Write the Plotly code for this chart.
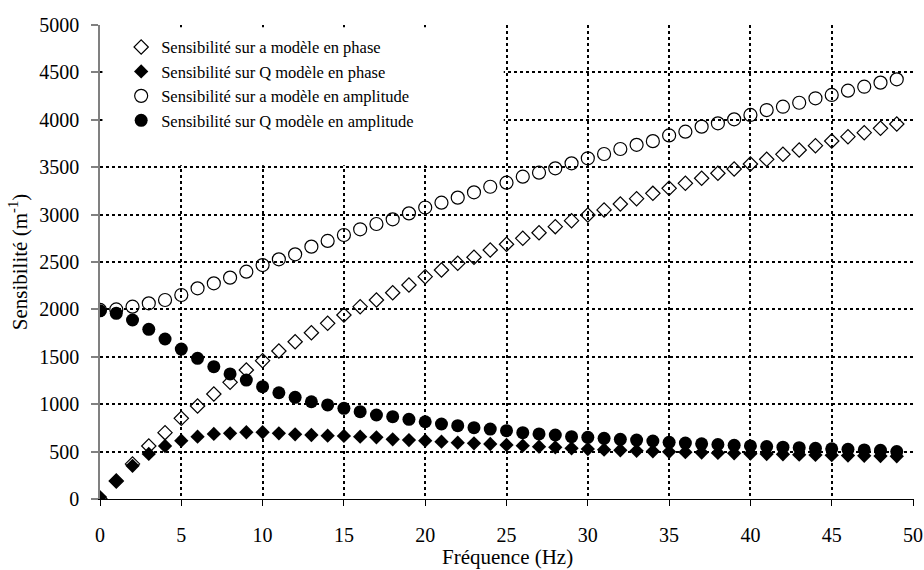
import plotly.graph_objects as go

freq = list(range(50))

sens_a_phase = [0, 190, 370, 559, 700, 851, 981, 1108, 1231, 1361, 1459, 1561, 1659, 1754, 1853, 1941,
                2029, 2099, 2176, 2257, 2345, 2416, 2486, 2550, 2627, 2687, 2750, 2809, 2873, 2936,
                2996, 3049, 3112, 3168, 3224, 3277, 3330, 3383, 3436, 3481, 3534, 3583, 3636, 3681,
                3727, 3776, 3822, 3864, 3910, 3956]

sens_q_phase = [20, 190, 350, 475, 559, 615, 657, 686, 693, 704, 704, 693, 682, 675, 668, 665,
                657, 651, 630, 622, 615, 605, 594, 587, 580, 570, 562, 552, 545, 535,
                527, 520, 514, 508, 503, 498, 494, 490, 486, 482, 478, 474, 471, 468,
                465, 462, 459, 456, 453, 450]

sens_a_ampl = [1994, 2000, 2029, 2064, 2099, 2152, 2222, 2275, 2335, 2398, 2468, 2528, 2581, 2662,
               2722, 2785, 2845, 2901, 2950, 3013, 3075, 3126, 3179, 3235, 3294, 3337, 3400, 3442,
               3488, 3541, 3594, 3639, 3692, 3736, 3775, 3835, 3875, 3928, 3963, 4005, 4051, 4103,
               4138, 4180, 4227, 4262, 4307, 4349, 4392, 4427]

sens_q_ampl = [1985, 1959, 1888, 1790, 1688, 1582, 1484, 1396, 1319, 1255, 1185, 1121, 1073, 1026,
               992, 957, 921, 886, 868, 840, 815, 791, 773, 752, 738, 721, 700, 686, 675, 657,
               651, 640, 630, 622, 612, 598, 590, 582, 575, 567, 560, 553, 547, 541, 535, 529,
               524, 518, 513, 500]

labels = ["Sensibilité sur a modèle en phase",
          "Sensibilité sur Q modèle en phase",
          "Sensibilité sur a modèle en amplitude",
          "Sensibilité sur Q modèle en amplitude"]

x_title = "Fréquence (Hz)"
y_title = "Sensibilité (m<sup>-1</sup>)"

x_ticks = list(range(0, 51, 5))
y_ticks = list(range(0, 5001, 500))

font_family = "Liberation Serif"

fig = go.Figure()
fig.add_trace(go.Scatter(x=freq, y=sens_a_phase, mode="markers", name=labels[0],
                         marker=dict(symbol="diamond-open", size=11, color="black",
                                     line=dict(width=1.2, color="black"))))
fig.add_trace(go.Scatter(x=freq, y=sens_q_phase, mode="markers", name=labels[1],
                         marker=dict(symbol="diamond", size=11, color="black",
                                     line=dict(width=0))))
fig.add_trace(go.Scatter(x=freq, y=sens_a_ampl, mode="markers", name=labels[2],
                         marker=dict(symbol="circle-open", size=13, color="black",
                                     line=dict(width=1.2, color="black"))))
fig.add_trace(go.Scatter(x=freq, y=sens_q_ampl, mode="markers", name=labels[3],
                         marker=dict(symbol="circle", size=13, color="black",
                                     line=dict(width=0))))

# white box behind the legend (hides the grid there, like the reference; no data lies there)
fig.add_shape(type="rect", xref="x domain", yref="y domain",
              x0=0.003, x1=0.496, y0=0.704, y1=0.995,
              fillcolor="white", line=dict(width=0), layer="above")

fig.add_annotation(text=x_title, xref="x domain", yref="y domain",
                   x=0.5, y=-0.1224, xanchor="center", yanchor="middle",
                   showarrow=False, font=dict(family=font_family, size=21, color="black"))

fig.update_layout(
    width=924, height=570,
    margin=dict(l=100, r=10, t=25, b=71, autoexpand=False),
    paper_bgcolor="white", plot_bgcolor="white",
    font=dict(family=font_family, size=20, color="black"),
    showlegend=True,
    legend=dict(x=0.026, y=0.99, xanchor="left", yanchor="top",
                bgcolor="rgba(0,0,0,0)", borderwidth=0,
                font=dict(family=font_family, size=16.5, color="black"),
                itemwidth=30, tracegroupgap=0),
    xaxis=dict(range=[0, 50.06], tickvals=x_ticks, ticktext=[str(v) for v in x_ticks],
               showgrid=True, gridcolor="black", griddash="dot", gridwidth=2,
               showline=True, linecolor="black", linewidth=1.2,
               ticks="outside", ticklen=6, tickcolor="black", tickwidth=1.2,
               ticklabelstandoff=12, ticklabeloverflow="allow",
               zeroline=False, automargin=False,
               tickfont=dict(family=font_family, size=20)),
    yaxis=dict(range=[0, 5000], tickvals=y_ticks, ticktext=[str(v) for v in y_ticks],
               showgrid=True, gridcolor="black", griddash="dot", gridwidth=2,
               showline=True, linecolor="#808080", linewidth=1.5,
               ticks="outside", ticklen=7, tickcolor="#808080", tickwidth=1.5,
               ticklabelstandoff=8, zeroline=False, automargin=False,
               tickfont=dict(family=font_family, size=20),
               title=dict(text=y_title, standoff=6,
                          font=dict(family=font_family, size=21))),
)

fig.write_html("out.html", config={"displayModeBar": False},
               post_script="document.body.style.margin='0';")
